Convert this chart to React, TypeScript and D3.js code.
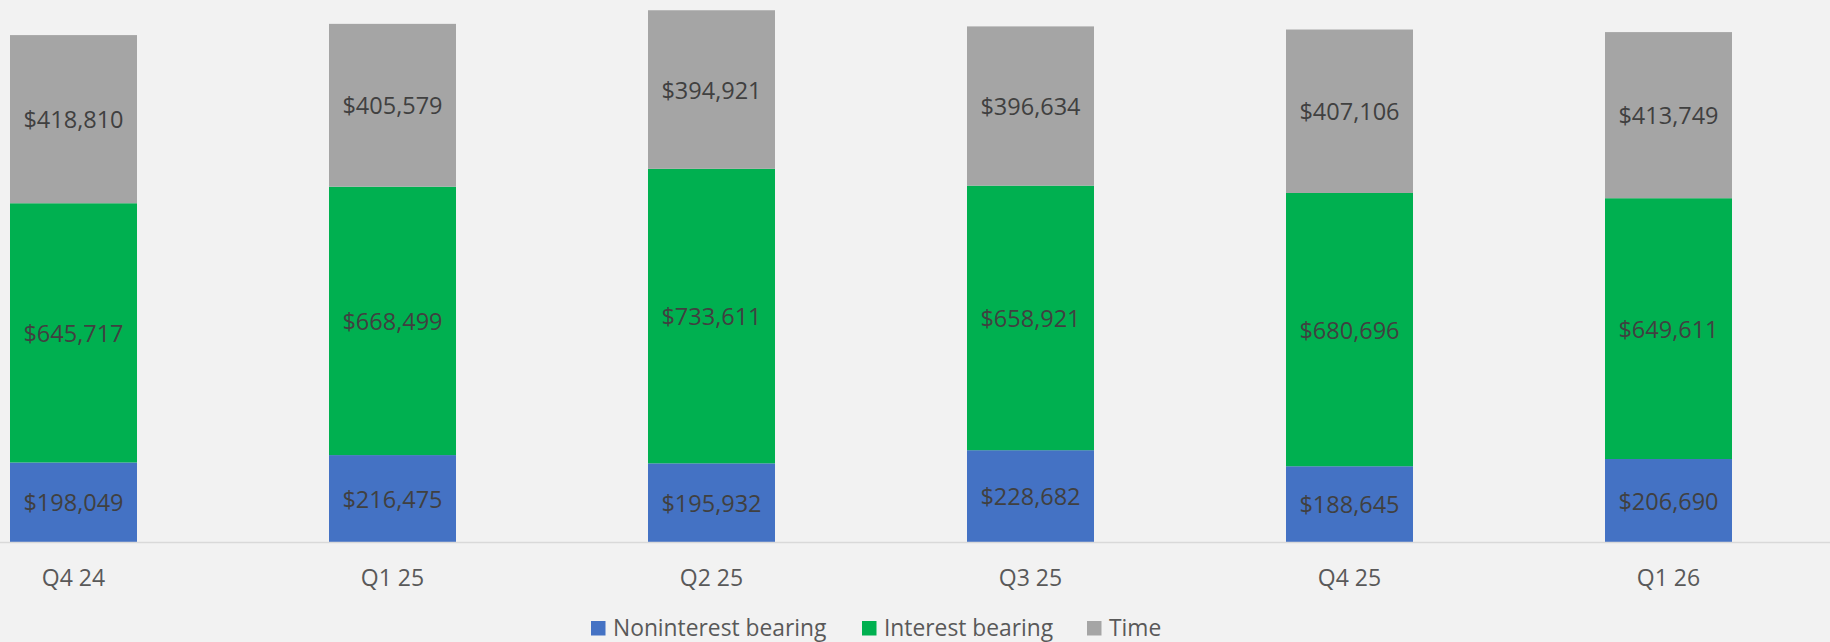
import React from "react";
import * as d3 from "d3";

const categories = ["Q4 24", "Q1 25", "Q2 25", "Q3 25", "Q4 25", "Q1 26"];
const noninterest = [198049, 216475, 195932, 228682, 188645, 206690];
const interest = [645717, 668499, 733611, 658921, 680696, 649611];
const time = [418810, 405579, 394921, 396634, 407106, 413749];
const seriesNames = ["Noninterest bearing", "Interest bearing", "Time"];
const seriesColors = ["#4472C4", "#00B050", "#A5A5A5"];

const W = 1830;
const H = 642;
const FONT = "'Open Sans', sans-serif";

export default function App() {
  const baseline = 542;
  const x = d3.scalePoint<string>().domain(categories).range([73.5, 1668.5]);
  const y = d3.scaleLinear().domain([0, 1350000]).range([baseline, 0]);
  const barW = 127;

  const rows = categories.map((c, i) => ({
    cat: c,
    s0: noninterest[i],
    s1: interest[i],
    s2: time[i],
  }));
  const stack = d3.stack<any>().keys(["s0", "s1", "s2"]);
  const stacked = stack(rows);
  const fmt = (v: number) => "$" + d3.format(",")(v);

  const legendItems = [
    { name: seriesNames[0], color: seriesColors[0], x: 591 },
    { name: seriesNames[1], color: seriesColors[1], x: 862 },
    { name: seriesNames[2], color: seriesColors[2], x: 1087 },
  ];

  return (
    <svg
      width={W}
      height={H}
      style={{ position: "absolute", left: 0, top: 0, background: "#F2F2F2" }}
      fontFamily={FONT}
    >
      <rect x={0} y={0} width={W} height={H} fill="#F2F2F2" />
      {stacked.map((layer, si) => (
        <g key={si}>
          {layer.map((d, i) => {
            const x0 = (x(categories[i]) as number) - barW / 2;
            const yTop = y(d[1]);
            const yBot = y(d[0]);
            return (
              <g key={i}>
                <rect x={x0} y={yTop} width={barW} height={yBot - yTop} fill={seriesColors[si]} />
                <text
                  x={x0 + barW / 2}
                  y={(yTop + yBot) / 2}
                  textAnchor="middle"
                  dominantBaseline="central"
                  fontSize={23.5}
                  fill="#404040"
                >
                  {fmt(d[1] - d[0])}
                </text>
              </g>
            );
          })}
        </g>
      ))}
      <line x1={0} x2={W} y1={baseline + 0.5} y2={baseline + 0.5} stroke="#D9D9D9" strokeWidth={1.5} />
      {categories.map((c) => (
        <text
          key={c}
          x={x(c) as number}
          y={576.5}
          textAnchor="middle"
          dominantBaseline="central"
          fontSize={23}
          fill="#595959"
        >
          {c}
        </text>
      ))}
      {legendItems.map((l) => (
        <g key={l.name}>
          <rect x={l.x} y={621} width={14.5} height={14.5} fill={l.color} />
          <text x={l.x + 22} y={635.5} fontSize={22.8} fill="#595959">
            {l.name}
          </text>
        </g>
      ))}
    </svg>
  );
}
